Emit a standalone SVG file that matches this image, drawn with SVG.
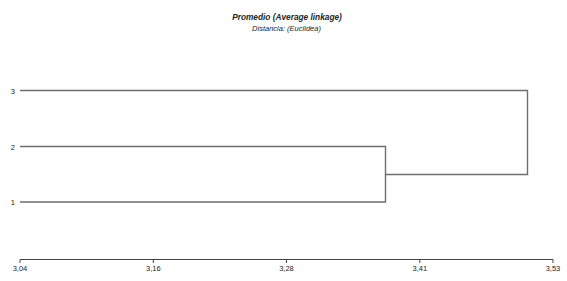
<svg xmlns="http://www.w3.org/2000/svg" width="567" height="281" viewBox="0 0 567 281">
<style>
text{font-family:"Liberation Sans",Arial,sans-serif;fill:#222}
.t{font-size:8.3px;font-weight:bold;font-style:italic;text-anchor:middle}
.s{font-size:7.5px;font-style:italic;text-anchor:middle}
.lab{font-size:7.5px;text-anchor:end}
.tk{font-size:7.5px;text-anchor:middle}
.br{fill:none;stroke:#6e6e6e;stroke-width:1.4}
.ax{fill:none;stroke:#444;stroke-width:1}
</style>
<rect width="567" height="281" fill="#fff"/>
<g id="title">
<text class="t" x="287" y="20">Promedio (Average linkage)</text>
<text class="s" x="286.5" y="30.5">Distancia: (Euclidea)</text>
</g>
<g id="leaf3"><text class="lab" x="15" y="93.5">3</text></g>
<g id="leaf2"><text class="lab" x="15" y="149.5">2</text></g>
<g id="leaf1"><text class="lab" x="15" y="205">1</text></g>
<g id="connectors">
<polyline class="br" points="20,146.5 385.5,146.5 385.5,202 20,202"/>
<polyline class="br" points="385.5,174.5 527.5,174.5 527.5,90.5 20,90.5"/>
</g>
<g id="axis">
<path class="ax" d="M20,259.5H553M20,259.5V263M153.3,259.5V263M286.5,259.5V263M419.8,259.5V263M553,259.5V263"/>
<text class="tk" x="20" y="271">3,04</text>
<text class="tk" x="153.3" y="271">3,16</text>
<text class="tk" x="286.5" y="271">3,28</text>
<text class="tk" x="419.8" y="271">3,41</text>
<text class="tk" x="553" y="271">3,53</text>
</g>
</svg>
